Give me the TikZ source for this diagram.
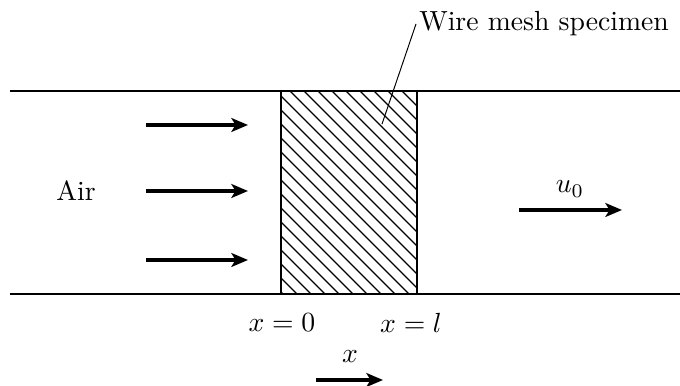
\documentclass[tikz,border=0pt]{standalone}
\usetikzlibrary{arrows.meta,positioning}
\tikzset{
    wall/.style={line width=0.8pt},
    flow arrow/.style={-{Stealth[length=6pt,width=5pt,inset=1.5pt]}, line width=1.4pt},
    hatch/.style={line width=0.5pt},
    leader/.style={line width=0.35pt},
    label/.style={inner sep=1pt}
}
\begin{document}
\begin{tikzpicture}[x=0.0127cm, y=-0.0127cm]
        \useasboundingbox (0,0) rectangle (680,386);
        % Channel walls
        \coordinate (wall top left) at (10,91);
        \coordinate (wall top right) at (680,91);
        \coordinate (wall bot left) at (10,294);
        \coordinate (wall bot right) at (680,294);
        \draw[wall] (wall top left) -- (wall top right);
        \draw[wall] (wall bot left) -- (wall bot right);

        % Wire mesh specimen
        \coordinate (mesh nw) at (281,91);
        \coordinate (mesh se) at (417,294);
        \begin{scope}
            \clip (mesh nw) rectangle (mesh se);
            \foreach \s in {-200,-186,...,420}
                \draw[hatch] (\s,91) -- ++(203,203);
        \end{scope}
        \draw[wall] (mesh nw) rectangle (mesh se);

        % Incoming air
        \node[label] (air) at (76,191) {Air};
        \foreach \y/\n in {125/a, 191/b, 260/c} {
            \coordinate (in \n) at (146,\y);
            \coordinate (out \n) at (248,\y);
            \draw[flow arrow] (in \n) -- (out \n);
        }

        % Outgoing flow
        \coordinate (u start) at (519,210);
        \coordinate (u end) at (622,210);
        \draw[flow arrow] (u start) -- (u end);
        \node[label] (u0) at (570,189) {$u_0$};

        % Positions
        \node[label] (x0) at (282,323) {$x=0$};
        \node[label] (xl) at (411,323) {$x=l$};
        \coordinate (x start) at (316,380);
        \coordinate (x end) at (383,380);
        \draw[flow arrow] (x start) -- (x end);
        \node[label] (xlab) at (350,357) {$x$};

        % Leader
        \node[label, anchor=west] (mesh label) at (416,24) {Wire mesh specimen};
        \coordinate (mesh point) at (382,124);
        \draw[leader] (mesh point) -- (mesh label.west);
    \end{tikzpicture}
\end{document}
